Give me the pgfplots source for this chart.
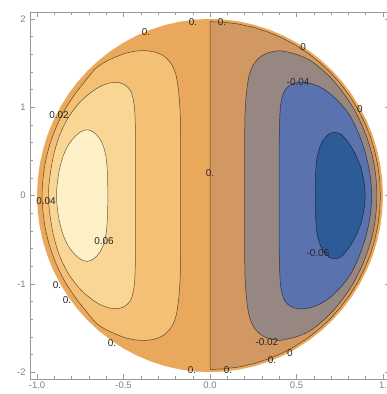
\documentclass[border=0pt]{standalone}
\usepackage{fontspec}
\setmainfont{Liberation Sans}
\usepackage{pgfplots}
\pgfplotsset{compat=1.18}
\definecolor{cOr}{RGB}{233,168,91}
\definecolor{cBr}{RGB}{210,152,97}
\definecolor{cL1}{RGB}{243,192,118}
\definecolor{cL2}{RGB}{249,214,148}
\definecolor{cCr}{RGB}{253,240,198}
\definecolor{cGr}{RGB}{150,135,131}
\definecolor{cBl}{RGB}{90,114,174}
\definecolor{cDb}{RGB}{45,91,151}
\tikzset{
  ct/.style={draw=black, draw opacity=0.6, line width=0.5pt},
  lab/.style={font=\fontsize{10}{12}\selectfont, text=black!85, inner sep=0pt},
}
\begin{document}
\begin{tikzpicture}
\useasboundingbox (-30.1bp,-14.8bp) rectangle (356.9bp,379.2bp);
\begin{axis}[
  at={(0,0)}, anchor=south west,
  scale only axis, width=359.8bp, height=367.3bp,
  xmin=-1.04, xmax=1.04, ymin=-2.08, ymax=2.08,
  xtick={-1,-0.5,0,0.5,1}, xticklabels={-1.0,-0.5,0.0,0.5,1.},
  ytick={-2,-1,0,1,2}, yticklabels={-2,-1,0,1,2},
  minor x tick num=4, minor y tick num=4,
  tick align=inside,
  major tick length=5bp, minor tick length=3bp,
  axis line style={black!40},
  every tick/.style={black!40, line width=0.4pt},
  tick label style={font=\fontsize{9.5}{11}\selectfont, text=black!50},
  xticklabel style={yshift=1bp},
  yticklabel style={xshift=-1bp},
  axis on top,
]
% whole disc (0..0.02 band)
\addplot[fill=cOr, draw=none] coordinates {
(1,0) (0.9962,0.1743) (0.9848,0.3473) (0.9659,0.5176) (0.9397,0.6840) (0.9063,0.8452) (0.8660,1.0) (0.8192,1.1472) (0.7660,1.2856) (0.7071,1.4142) (0.6428,1.5321) (0.5736,1.6383) (0.5,1.7321) (0.4226,1.8126) (0.3420,1.8794) (0.2588,1.9319) (0.1736,1.9696) (0.0872,1.9924) (0,2)
(-0.0872,1.9924) (-0.1736,1.9696) (-0.2588,1.9319) (-0.3420,1.8794) (-0.4226,1.8126) (-0.5,1.7321) (-0.5736,1.6383) (-0.6428,1.5321) (-0.7071,1.4142) (-0.7660,1.2856) (-0.8192,1.1472) (-0.8660,1.0) (-0.9063,0.8452) (-0.9397,0.6840) (-0.9659,0.5176) (-0.9848,0.3473) (-0.9962,0.1743) (-1,0)
(-0.9962,-0.1743) (-0.9848,-0.3473) (-0.9659,-0.5176) (-0.9397,-0.6840) (-0.9063,-0.8452) (-0.8660,-1.0) (-0.8192,-1.1472) (-0.7660,-1.2856) (-0.7071,-1.4142) (-0.6428,-1.5321) (-0.5736,-1.6383) (-0.5,-1.7321) (-0.4226,-1.8126) (-0.3420,-1.8794) (-0.2588,-1.9319) (-0.1736,-1.9696) (-0.0872,-1.9924) (0,-2)
(0.0872,-1.9924) (0.1736,-1.9696) (0.2588,-1.9319) (0.3420,-1.8794) (0.4226,-1.8126) (0.5,-1.7321) (0.5736,-1.6383) (0.6428,-1.5321) (0.7071,-1.4142) (0.7660,-1.2856) (0.8192,-1.1472) (0.8660,-1.0) (0.9063,-0.8452) (0.9397,-0.6840) (0.9659,-0.5176) (0.9848,-0.3473) (0.9962,-0.1743) (1,0)
} -- cycle;
% right side, -0.02..0 band (inside zero contour)
\addplot[fill=cBr, ct] coordinates {
(0,0) (0,1.97) (0.0859,1.9625) (0.1710,1.9401) (0.2549,1.9029) (0.3369,1.8512) (0.4163,1.7854) (0.4925,1.7061) (0.5650,1.6137) (0.6331,1.5091) (0.6965,1.3930) (0.7545,1.2663) (0.8069,1.1300) (0.8530,0.985) (0.8927,0.8326) (0.9256,0.6738) (0.9514,0.5099) (0.9700,0.3421) (0.9813,0.1717) (0.985,0)
(0.9813,-0.1717) (0.9700,-0.3421) (0.9514,-0.5099) (0.9256,-0.6738) (0.8927,-0.8326) (0.8530,-0.985) (0.8069,-1.1300) (0.7545,-1.2663) (0.6965,-1.3930) (0.6331,-1.5091) (0.5650,-1.6137) (0.4925,-1.7061) (0.4163,-1.7854) (0.3369,-1.8512) (0.2549,-1.9029) (0.1710,-1.9401) (0.0859,-1.9625) (0,-1.97) (0,0)
} -- cycle;
% 0.02 contour
\addplot[fill=cL1, ct, smooth] coordinates {
(-0.17,0) (-0.17,0.5) (-0.172,0.9) (-0.18,1.15) (-0.195,1.35) (-0.22,1.48) (-0.26,1.57) (-0.31,1.62) (-0.37,1.64) (-0.43,1.635) (-0.49,1.61) (-0.55,1.565) (-0.60,1.52) (-0.66,1.44) (-0.72,1.30) (-0.78,1.15) (-0.84,0.97) (-0.89,0.77) (-0.93,0.55) (-0.955,0.34) (-0.968,0.13) (-0.97,0)
(-0.968,-0.13) (-0.955,-0.34) (-0.93,-0.55) (-0.89,-0.77) (-0.84,-0.97) (-0.78,-1.15) (-0.72,-1.30) (-0.66,-1.44) (-0.60,-1.52) (-0.55,-1.565) (-0.49,-1.61) (-0.43,-1.635) (-0.37,-1.64) (-0.31,-1.62) (-0.26,-1.57) (-0.22,-1.48) (-0.195,-1.35) (-0.18,-1.15) (-0.172,-0.9) (-0.17,-0.5) (-0.17,0)
} -- cycle;
% 0.04 contour
\addplot[fill=cL2, ct, smooth] coordinates {
(-0.43,0) (-0.43,0.6) (-0.435,0.95) (-0.445,1.1) (-0.46,1.19) (-0.49,1.25) (-0.53,1.28) (-0.58,1.275) (-0.64,1.23) (-0.70,1.15) (-0.76,1.04) (-0.82,0.88) (-0.87,0.68) (-0.905,0.45) (-0.925,0.22) (-0.935,0)
(-0.925,-0.22) (-0.905,-0.45) (-0.87,-0.68) (-0.82,-0.88) (-0.76,-1.04) (-0.70,-1.15) (-0.64,-1.23) (-0.58,-1.275) (-0.53,-1.28) (-0.49,-1.25) (-0.46,-1.19) (-0.445,-1.1) (-0.435,-0.95) (-0.43,-0.6) (-0.43,0)
} -- cycle;
% 0.06 contour
\addplot[fill=cCr, ct, smooth] coordinates {
(-0.59,0) (-0.593,0.25) (-0.60,0.42) (-0.615,0.55) (-0.64,0.65) (-0.675,0.72) (-0.71,0.745) (-0.745,0.725) (-0.78,0.67) (-0.82,0.57) (-0.85,0.44) (-0.872,0.28) (-0.885,0.1) (-0.887,0)
(-0.885,-0.1) (-0.872,-0.28) (-0.85,-0.44) (-0.82,-0.57) (-0.78,-0.67) (-0.745,-0.725) (-0.71,-0.745) (-0.675,-0.72) (-0.64,-0.65) (-0.615,-0.55) (-0.60,-0.42) (-0.593,-0.25) (-0.59,0)
} -- cycle;
% -0.02 contour
\addplot[fill=cGr, ct, smooth] coordinates {
(0.20,0) (0.20,0.5) (0.202,0.9) (0.21,1.15) (0.225,1.35) (0.25,1.48) (0.29,1.57) (0.34,1.62) (0.40,1.64) (0.46,1.62) (0.52,1.585) (0.58,1.53) (0.64,1.44) (0.70,1.33) (0.76,1.19) (0.82,1.02) (0.87,0.835) (0.91,0.64) (0.94,0.44) (0.958,0.23) (0.965,0)
(0.958,-0.23) (0.94,-0.44) (0.91,-0.64) (0.87,-0.835) (0.82,-1.02) (0.76,-1.19) (0.70,-1.33) (0.64,-1.44) (0.58,-1.53) (0.52,-1.585) (0.46,-1.62) (0.40,-1.64) (0.34,-1.62) (0.29,-1.57) (0.25,-1.48) (0.225,-1.35) (0.21,-1.15) (0.202,-0.9) (0.20,-0.5) (0.20,0)
} -- cycle;
% -0.04 contour
\addplot[fill=cBl, ct, smooth] coordinates {
(0.40,0) (0.40,0.6) (0.405,0.95) (0.415,1.1) (0.435,1.2) (0.47,1.26) (0.52,1.285) (0.57,1.275) (0.63,1.235) (0.69,1.16) (0.75,1.05) (0.81,0.9) (0.86,0.7) (0.90,0.47) (0.925,0.24) (0.935,0)
(0.925,-0.24) (0.90,-0.47) (0.86,-0.7) (0.81,-0.9) (0.75,-1.05) (0.69,-1.16) (0.63,-1.235) (0.57,-1.275) (0.52,-1.285) (0.47,-1.26) (0.435,-1.2) (0.415,-1.1) (0.405,-0.95) (0.40,-0.6) (0.40,0)
} -- cycle;
% -0.06 contour
\addplot[fill=cDb, ct, smooth] coordinates {
(0.61,0) (0.61,0.2) (0.615,0.38) (0.63,0.52) (0.655,0.63) (0.69,0.7) (0.725,0.715) (0.76,0.69) (0.80,0.6) (0.84,0.47) (0.875,0.3) (0.893,0.12) (0.897,0)
(0.893,-0.12) (0.875,-0.3) (0.84,-0.47) (0.80,-0.6) (0.76,-0.69) (0.725,-0.715) (0.69,-0.7) (0.655,-0.63) (0.63,-0.52) (0.615,-0.38) (0.61,-0.2) (0.61,0)
} -- cycle;
% contour labels
\node[lab] at (axis cs:-0.37,1.857) {0.};
\node[lab] at (axis cs:-0.098,1.97) {0.};
\node[lab] at (axis cs:0.069,1.97) {0.};
\node[lab] at (axis cs:0.538,1.676) {0};
\node[lab] at (axis cs:0.867,0.985) {0};
\node[lab] at (axis cs:0.509,1.28) {-0.04};
\node[lab] at (axis cs:0.0,0.26) {0.};
\node[lab] at (axis cs:-0.873,0.906) {0.02};
\node[lab] at (axis cs:-0.948,-0.057) {0.04};
\node[lab] at (axis cs:-0.613,-0.51) {0.06};
\node[lab] at (axis cs:-0.884,-1.019) {0.};
\node[lab] at (axis cs:-0.827,-1.189) {0.};
\node[lab] at (axis cs:-0.566,-1.676) {0.};
\node[lab] at (axis cs:-0.104,-1.98) {0.};
\node[lab] at (axis cs:0.624,-0.646) {-0.06};
\node[lab] at (axis cs:0.329,-1.665) {-0.02};
\node[lab] at (axis cs:0.358,-1.869) {0.};
\node[lab] at (axis cs:0.462,-1.789) {0};
\node[lab] at (axis cs:0.104,-1.98) {0.};
\end{axis}
\end{tikzpicture}
\end{document}
